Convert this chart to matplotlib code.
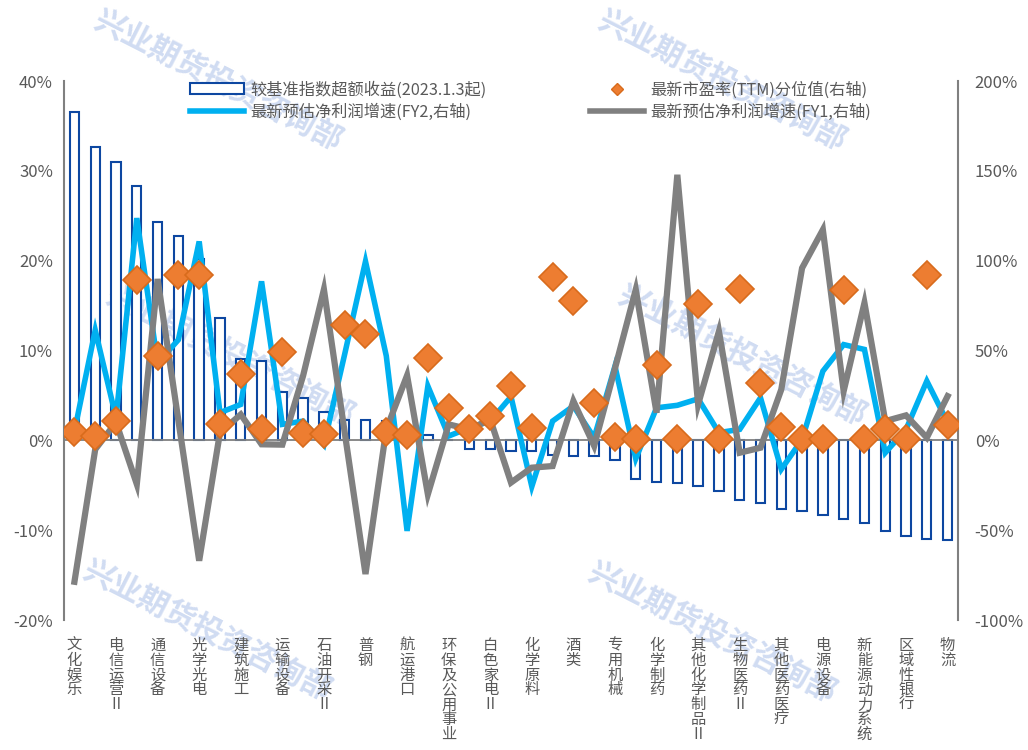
import matplotlib
matplotlib.use("Agg")
import matplotlib.pyplot as plt
from matplotlib.lines import Line2D
from matplotlib.patches import Patch
from matplotlib.ticker import FuncFormatter

plt.rcParams["font.family"] = ["Noto Sans CJK SC", "DejaVu Sans"]
plt.rcParams["axes.unicode_minus"] = False

# labels shown on every second category
shown_labels = ["文化娱乐", "电信运营Ⅱ", "通信设备", "光学光电", "建筑施工", "运输设备",
                "石油开采Ⅱ", "普钢", "航运港口", "环保及公用事业", "白色家电Ⅱ", "化学原料",
                "酒类", "专用机械", "化学制药", "其他化学制品Ⅱ", "生物医药Ⅱ", "其他医药医疗",
                "电源设备", "新能源动力系统", "区域性银行", "物流"]

# excess return vs benchmark (left axis, %)
excess = [36.6, 32.6, 31.0, 28.3, 24.3, 22.8, 20.2, 13.6, 9.0, 8.8, 5.4, 4.7, 3.2,
          2.3, 2.3, 2.1, 1.3, 0.6, 0.0, -1.0, -1.0, -1.2, -1.2, -1.6, -1.7, -1.7,
          -2.2, -4.3, -4.6, -4.8, -5.1, -5.6, -6.6, -7.0, -7.6, -7.9, -8.3, -8.7,
          -9.2, -10.1, -10.6, -11.0, -11.1]

# PE(TTM) percentile (right axis, %)
pe_pct = [4.6, 2.4, 10.7, 89.4, 47.2, 92.2, 92.2, 9.3, 36.7, 6.1, 49.1, 4.3, 3.3,
          64.2, 59.3, 4.6, 2.8, 45.6, 18.1, 6.5, 13.5, 30.2, 7.0, 90.9, 77.8, 20.9,
          2.0, 0.9, 41.7, 0.7, 75.9, 0.6, 84.4, 31.7, 7.6, 0.6, 0.6, 83.9, 0.6, 6.1,
          0.6, 91.9, 8.5]

# profit growth FY2 (right axis, %)
growth_fy2 = [5, 61.3, 12.6, 123.7, 43, 56, 110.7, 15.4, 20.0, 88.5, 8.9, 10.7, -2.5,
              48, 99.6, 47, -50.4, 30.2, 2.4, 7.0, 10.7, 24.3, -25.7, 10.7, 19.1, 1.5,
              41.3, -10.2, 18.1, 19.5, 23.1, 4.3, 6.1, 23.7, -16.1, 0.5, 38.5, 53.3,
              50.6, -6.9, 6.1, 33, 10]

# profit growth FY1 (right axis, %)
growth_fy1 = [-78.7, -5.0, 10, -24.4, 89.8, 11, -67, 4.3, 14.4, -2.2, -2.4, 36, 84,
              4.4, -74.4, 6.1, 36.1, -30, 8.9, 6.1, 11.7, -23.5, -15.2, -14.3, 21.9,
              -3.1, 40, 83.9, 15.4, 147.8, 20, 60.7, -6.9, -4.1, 28.3, 95.9, 117.2,
              27.4, 76.5, 10.7, 13.9, 1.5, 24.6]

BAR_EDGE = "#0d47a1"
BLUE = "#00b0f0"
GRAY = "#808080"
ORANGE = "#ed7d31"
TXT = "#595959"

x = list(range(len(excess)))

fig = plt.figure(figsize=(10.28, 7.5), dpi=100)
ax = fig.add_axes([0.0623, 0.1733, 0.8696, 0.7187])
ax.patch.set_visible(False)
ax2 = ax.twinx()

# watermark
for cx, cy in [(218, 80), (722, 80), (230, 355), (742, 355), (207, 630), (712, 632)]:
    fig.text(cx / 1028, 1 - cy / 750, "兴业期货投资咨询部", fontsize=22, fontweight="bold",
             color="#c5d3ef", alpha=0.8, rotation=-27, ha="center", va="center",
             zorder=-5)

ax.bar(x, excess, width=0.45, facecolor="white", edgecolor=BAR_EDGE, linewidth=1.5,
       zorder=1)
ax.axhline(0, color=GRAY, linewidth=1.3, zorder=2)

ax2.plot(x, growth_fy2, color=BLUE, linewidth=4, zorder=2, solid_joinstyle="miter")
ax2.plot(x, growth_fy1, color=GRAY, linewidth=4.5, zorder=3, solid_joinstyle="miter")
ax2.plot(x, pe_pct, linestyle="none", marker="D", markersize=14, color=ORANGE,
         markeredgecolor="#d86b1c", markeredgewidth=1.2, zorder=4)

ax.set_xlim(-0.5, len(excess) - 0.5)
ax.set_ylim(-20, 40)
ax2.set_ylim(-100, 200)
ax.set_yticks(range(-20, 41, 10))
ax2.set_yticks(range(-100, 201, 50))
pct = FuncFormatter(lambda v, p: f"{v:.0f}%")
ax.yaxis.set_major_formatter(pct)
ax2.yaxis.set_major_formatter(pct)

ax.set_xticks(range(0, len(excess), 2))
ax.set_xticklabels(["\n".join(s) for s in shown_labels], linespacing=0.84)
ax.tick_params(axis="x", length=0, pad=12, labelsize=11, colors=TXT)
ax.tick_params(axis="y", length=0, pad=8, labelsize=12, colors=TXT)
ax2.tick_params(axis="y", length=0, pad=12, labelsize=12, colors=TXT)

for a in (ax, ax2):
    for side in ("top", "bottom"):
        a.spines[side].set_visible(False)
    for side in ("left", "right"):
        a.spines[side].set_color(GRAY)
        a.spines[side].set_linewidth(1.5)
ax.spines["right"].set_visible(False)
ax2.spines["left"].set_visible(False)

handles = [
    Patch(facecolor="white", edgecolor=BAR_EDGE, linewidth=1.5,
          label="较基准指数超额收益(2023.1.3起)"),
    Line2D([], [], color=BLUE, linewidth=4, label="最新预估净利润增速(FY2,右轴)"),
    Line2D([], [], color=ORANGE, marker="D", linestyle="none", markersize=6,
           markeredgecolor="#d86b1c", label="最新市盈率(TTM)分位值(右轴)"),
    Line2D([], [], color=GRAY, linewidth=4, label="最新预估净利润增速(FY1,右轴)"),
]
leg = ax2.legend(handles=handles, ncol=2, loc="upper left",
                 bbox_to_anchor=(190 / 1028, 1 - 81 / 750), bbox_transform=fig.transFigure,
                 frameon=False, fontsize=11.7, handlelength=3.3, handleheight=0.7,
                 labelspacing=0.3, columnspacing=6.4, handletextpad=0.4,
                 borderaxespad=0, borderpad=0)
for t in leg.get_texts():
    t.set_color(TXT)

fig.savefig("out.png", dpi=100)
